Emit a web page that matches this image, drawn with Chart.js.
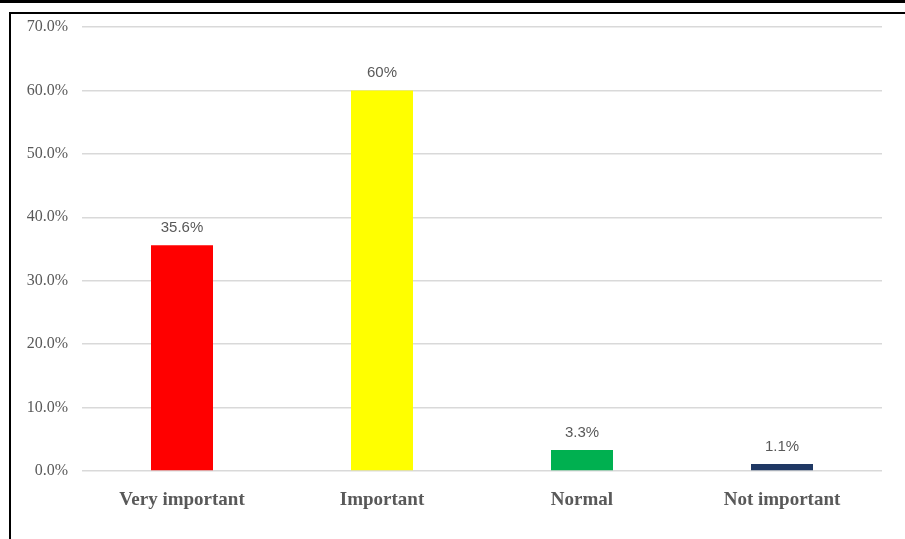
<!DOCTYPE html>
<html>
<head>
<meta charset="utf-8">
<script src="https://cdn.jsdelivr.net/npm/chart.js@4/dist/chart.umd.min.js"></script>
<style>
  html, body { margin: 0; padding: 0; background: #fff; }
  #wrap { position: relative; width: 905px; height: 539px; overflow: hidden; }
  canvas { position: absolute; left: 0; top: 0; }
  .topbar { position: absolute; left: 0; top: 0; width: 905px; height: 3px; background: #000; }
  .frameTop { position: absolute; left: 9px; top: 12px; width: 896px; height: 2px; background: #000; }
  .frameLeft { position: absolute; left: 9px; top: 12px; width: 2px; height: 527px; background: #000; }
</style>
</head>
<body>
<div id="wrap">
  <canvas id="c" width="905" height="539"></canvas>
  <div class="topbar"></div>
  <div class="frameTop"></div>
  <div class="frameLeft"></div>
</div>
<script>
const categories = ["Very important", "Important", "Normal", "Not important"];
const values = [35.6, 60, 3.3, 1.1];
const valueLabels = ["35.6%", "60%", "3.3%", "1.1%"];
const barColors = ["#FF0000", "#FFFF00", "#00B050", "#1F3864"];
const yTicks = [0, 10, 20, 30, 40, 50, 60, 70];

const barLabelPlugin = {
  id: 'barLabels',
  afterDatasetsDraw(chart) {
    const ctx = chart.ctx;
    const meta = chart.getDatasetMeta(0);
    ctx.save();
    ctx.font = '15px "Liberation Sans", Arial, sans-serif';
    ctx.fillStyle = '#595959';
    ctx.textAlign = 'center';
    ctx.textBaseline = 'alphabetic';
    meta.data.forEach((bar, i) => {
      ctx.fillText(valueLabels[i], bar.x, bar.y - 13);
    });
    ctx.restore();
  }
};

new Chart(document.getElementById('c'), {
  type: 'bar',
  data: {
    labels: categories,
    datasets: [{
      data: values,
      backgroundColor: barColors,
      borderWidth: 0,
      barPercentage: 0.31,
      categoryPercentage: 1.0
    }]
  },
  options: {
    responsive: false,
    animation: false,
    devicePixelRatio: 1,
    layout: { padding: { top: 27, right: 23, left: 0, bottom: 0 } },
    plugins: { legend: { display: false }, tooltip: { enabled: false } },
    scales: {
      x: {
        grid: { display: false, drawTicks: false },
        border: { display: false },
        ticks: {
          color: '#595959',
          font: { family: '"Liberation Serif", "Times New Roman", serif', size: 19, weight: 'bold' },
          padding: 18,
          maxRotation: 0
        },
        afterFit(scale) { scale.height = 68; }
      },
      y: {
        min: 0,
        max: 70,
        afterBuildTicks(scale) { scale.ticks = yTicks.map(v => ({ value: v })); },
        grid: { color: '#D9D9D9', lineWidth: 1.5, drawTicks: false },
        border: { display: false },
        ticks: {
          color: '#595959',
          font: { family: '"Liberation Serif", "Times New Roman", serif', size: 16 },
          padding: 14,
          callback: v => v.toFixed(1) + '%'
        },
        afterFit(scale) { scale.width = 82; }
      }
    }
  },
  plugins: [barLabelPlugin]
});
</script>
</body>
</html>
